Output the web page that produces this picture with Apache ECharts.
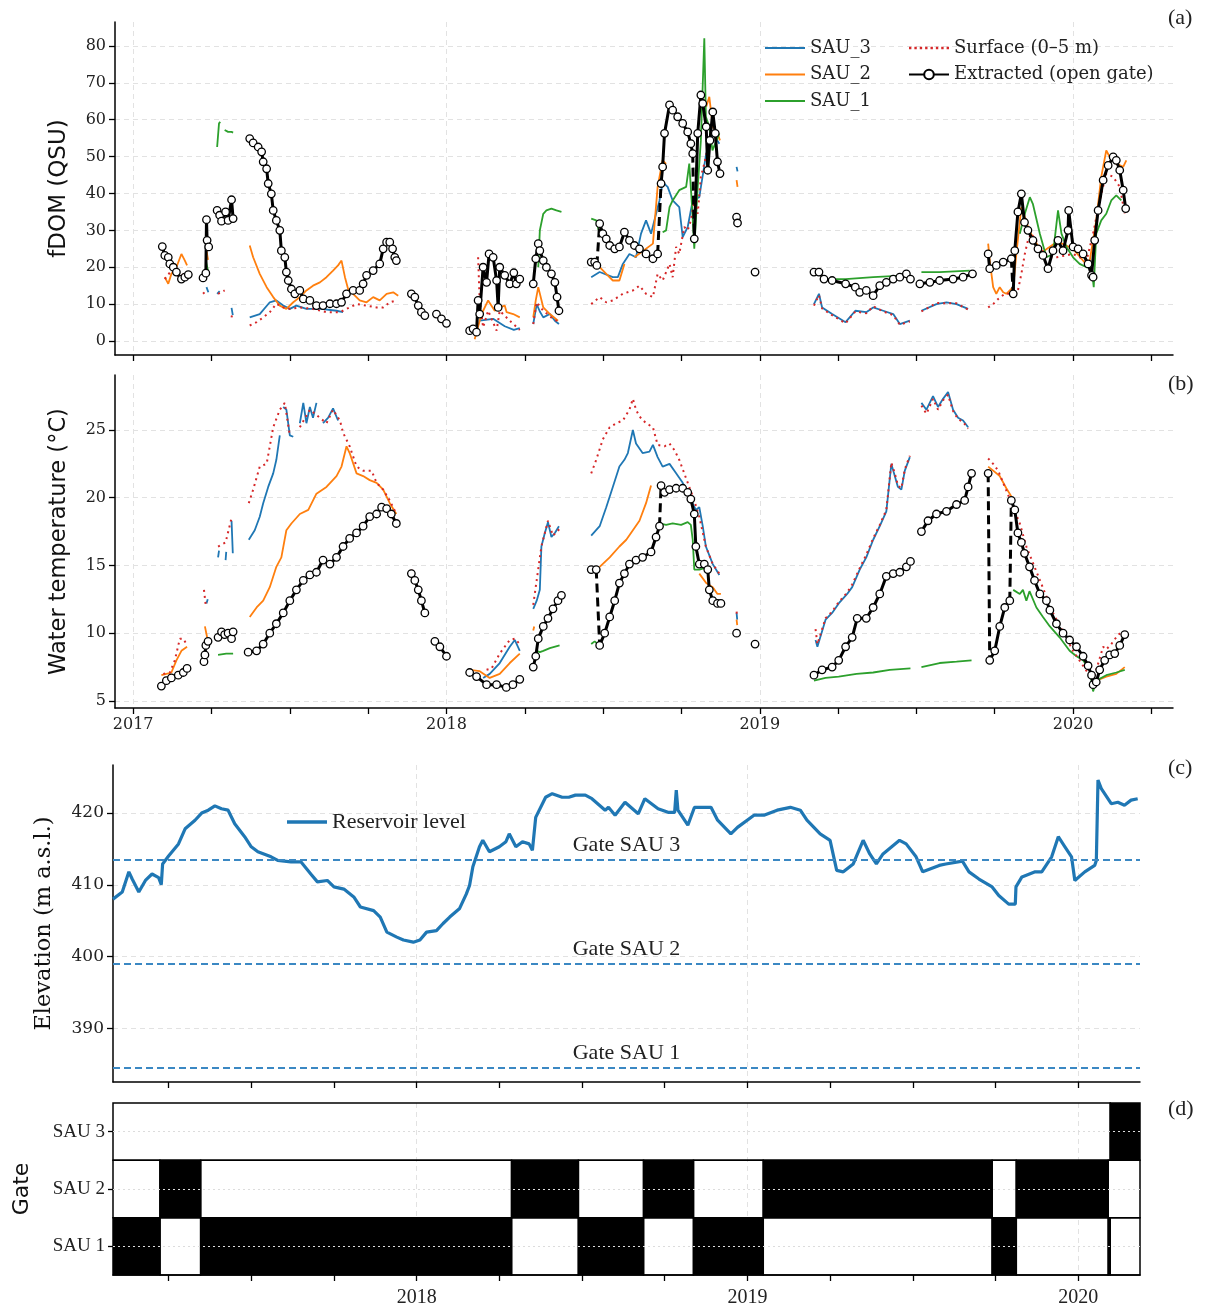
<!DOCTYPE html>
<html>
<head>
<meta charset="utf-8">
<script src="https://cdn.jsdelivr.net/npm/echarts@6/dist/echarts.min.js"></script>
<style>
html, body { margin: 0; padding: 0; background: #fff; }
#chart { width: 1210px; height: 1308px; }
</style>
</head>
<body>
<div id="chart"></div>
<script>
// ticks and labels (decimal years)
const quarterTicksAB = [2017, 2017.25, 2017.5, 2017.75, 2018, 2018.25, 2018.5, 2018.75, 2019, 2019.25, 2019.5, 2019.75, 2020, 2020.25];
const yearLabelsAB = [2017, 2018, 2019, 2020];
const quarterTicksCD = [2017.25, 2017.5, 2017.75, 2018, 2018.25, 2018.5, 2018.75, 2019, 2019.25, 2019.5, 2019.75, 2020];
const yearLabelsCD = [2018, 2019, 2020];
const fdomTicks = [0, 10, 20, 30, 40, 50, 60, 70, 80];
const tempTicks = [5, 10, 15, 20, 25];
const elevTicks = [390, 400, 410, 420];
const gateRows = ['SAU 1', 'SAU 2', 'SAU 3'];

// (a) fDOM, [decimal year, QSU], null = gap
const fdomSau3 = [
  [2017.234,14.6],[2017.240,13.2], null,
  [2017.268,12.8],[2017.276,13.5], null,
  [2017.314,9.0],[2017.318,7.0], null,
  [2017.372,6.4],[2017.404,7.3],[2017.436,10.5],[2017.457,11.0],[2017.479,9.6],[2017.500,8.7],[2017.521,9.6],[2017.553,8.7],[2017.600,8.7],[2017.649,8.2],[2017.670,7.8], null,
  [2018.106,5.5],[2018.149,6.0],[2018.186,4.0],[2018.215,3.0],[2018.234,3.5], null,
  [2018.277,4.6],[2018.288,10.0],[2018.298,8.0],[2018.309,6.4],[2018.330,7.3],[2018.346,5.5],[2018.359,4.6], null,
  [2018.462,17.3],[2018.489,18.7],[2018.531,17.3],[2018.547,17.3],[2018.563,20.9],[2018.584,23.6],[2018.605,22.7],[2018.621,29.1],[2018.637,32.7],[2018.653,29.1],[2018.669,34.5],[2018.680,38.1],[2018.690,43.1],[2018.706,41.8],[2018.722,38.1],[2018.743,36.3],[2018.754,28.2],[2018.770,30.9],[2018.786,38.1],[2018.807,39.0],[2018.829,50.8],[2018.850,56.3],[2018.871,53.5], null,
  [2018.926,47.2],[2018.929,46.0], null,
  [2019.173,10.0],[2019.189,12.8],[2019.199,9.1],[2019.231,7.3],[2019.274,5.1],[2019.305,8.2],[2019.340,7.8],[2019.362,9.1],[2019.394,8.2],[2019.426,7.3],[2019.447,4.6],[2019.479,5.5], null,
  [2019.516,8.2],[2019.564,10.0],[2019.596,10.5],[2019.628,10.0],[2019.665,8.7]
];
const fdomSau2 = [
  [2017.101,17.3],[2017.112,15.5],[2017.122,18.2],[2017.138,20.0],[2017.154,23.6],[2017.165,21.8],[2017.172,20.5], null,
  [2017.232,25.5],[2017.239,22.0], null,
  [2017.372,25.9],[2017.383,22.7],[2017.404,18.2],[2017.426,14.6],[2017.447,11.9],[2017.468,9.6],[2017.489,8.7],[2017.511,10.5],[2017.532,11.9],[2017.553,13.7],[2017.574,15.0],[2017.596,15.9],[2017.617,17.3],[2017.638,19.1],[2017.654,20.5],[2017.665,21.8],[2017.676,17.3],[2017.686,14.1],[2017.702,12.8],[2017.723,11.0],[2017.745,10.5],[2017.766,11.9],[2017.787,11.0],[2017.809,12.8],[2017.830,13.2],[2017.846,12.3], null,
  [2018.090,0.5],[2018.106,5.5],[2018.117,8.2],[2018.133,11.0],[2018.154,8.2],[2018.170,9.1],[2018.186,9.6],[2018.192,7.8],[2018.213,7.3],[2018.234,6.4], null,
  [2018.277,6.4],[2018.285,11.0],[2018.293,14.6],[2018.309,9.1],[2018.330,7.3],[2018.356,5.5], null,
  [2018.489,20.0],[2018.510,18.2],[2018.531,16.4],[2018.552,16.4],[2018.568,20.9], null,
  [2018.600,22.7],[2018.659,26.4],[2018.674,41.8],[2018.690,49.0],[2018.701,48.0], null,
  [2018.829,63.5],[2018.839,66.2],[2018.850,58.1],[2018.865,56.3],[2018.873,54.4], null,
  [2018.926,43.6],[2018.929,41.8], null,
  [2019.729,26.4],[2019.734,21.8],[2019.745,14.6],[2019.755,12.8],[2019.766,14.6],[2019.777,13.2],[2019.787,12.8],[2019.798,13.7],[2019.809,14.6],[2019.819,23.6],[2019.835,36.3],[2019.860,30.0],[2019.900,24.0],[2019.950,27.0],[2020.000,25.0],[2020.050,20.0],[2020.074,32.7],[2020.090,44.5],[2020.106,51.7],[2020.117,49.9],[2020.138,48.1],[2020.160,47.2],[2020.170,49.0]
];
const fdomSau1 = [
  [2017.232,21.8],[2017.239,19.0], null,
  [2017.268,52.6],[2017.274,59.0],[2017.278,59.4], null,
  [2017.292,57.2],[2017.303,56.7],[2017.314,56.7],[2017.319,56.5], null,
  [2018.293,20.0],[2018.298,30.0],[2018.309,34.5],[2018.319,35.4],[2018.335,35.9],[2018.351,35.4],[2018.367,35.0], null,
  [2018.462,33.2],[2018.478,32.7],[2018.489,29.0], null,
  [2018.690,29.5],[2018.701,30.0],[2018.712,36.3],[2018.722,38.1],[2018.743,40.9],[2018.765,41.8],[2018.775,48.1],[2018.784,36.3],[2018.791,25.0],[2018.802,41.8],[2018.812,54.4],[2018.823,82.1],[2018.828,60.8],[2018.839,58.1],[2018.849,51.7],[2018.871,56.3], null,
  [2019.210,16.8],[2019.274,16.8],[2019.362,17.3],[2019.468,17.8], null,
  [2019.516,18.7],[2019.574,18.7],[2019.670,19.1], null,
  [2019.830,29.1],[2019.846,34.5],[2019.862,39.0],[2019.872,37.1],[2019.894,29.1],[2019.915,22.7],[2019.936,23.6],[2019.952,35.4],[2019.963,29.1],[2019.979,25.5],[2020.000,22.7],[2020.021,20.9],[2020.043,20.0],[2020.059,20.0],[2020.066,14.6],[2020.074,29.1],[2020.090,32.7],[2020.106,34.5],[2020.122,38.1],[2020.138,39.5],[2020.154,38.1]
];
const fdomSurface = [
  [2017.101,16.8],[2017.122,19.1],[2017.149,17.3],[2017.170,18.7], null,
  [2017.223,12.8],[2017.234,13.7], null,
  [2017.271,12.8],[2017.292,13.7], null,
  [2017.314,6.4],[2017.318,8.0], null,
  [2017.372,4.2],[2017.394,5.1],[2017.415,6.4],[2017.436,7.8],[2017.457,10.1],[2017.479,9.1],[2017.500,8.7],[2017.532,9.1],[2017.574,8.7],[2017.617,7.8],[2017.660,7.8],[2017.681,8.7],[2017.713,10.0],[2017.745,9.6],[2017.777,9.1],[2017.798,9.1],[2017.819,10.5],[2017.840,11.0], null,
  [2018.101,22.7],[2018.106,11.0],[2018.117,3.7],[2018.133,8.2],[2018.160,2.8],[2018.170,8.2],[2018.202,5.5],[2018.234,3.0], null,
  [2018.277,4.6],[2018.288,10.5],[2018.309,8.2],[2018.340,6.0],[2018.361,5.1], null,
  [2018.462,10.0],[2018.489,11.9],[2018.510,10.5],[2018.531,11.0],[2018.563,12.8],[2018.595,13.7],[2018.616,15.0],[2018.637,12.8],[2018.659,11.9],[2018.674,18.2],[2018.690,16.4],[2018.712,20.9],[2018.722,17.3],[2018.733,25.5],[2018.743,23.6],[2018.759,30.9],[2018.770,30.0],[2018.780,32.7],[2018.791,38.0],[2018.802,34.5],[2018.812,44.5],[2018.823,48.1],[2018.839,54.4],[2018.855,54.4], null,
  [2019.173,9.6],[2019.189,12.4],[2019.199,8.8],[2019.231,7.0],[2019.274,4.8],[2019.305,8.0],[2019.340,7.5],[2019.362,9.4],[2019.394,8.0],[2019.426,7.0],[2019.447,4.4],[2019.479,5.3], null,
  [2019.516,8.0],[2019.564,10.3],[2019.596,10.2],[2019.628,10.2],[2019.665,8.5], null,
  [2019.729,9.1],[2019.745,10.0],[2019.761,11.4],[2019.782,12.8],[2019.803,12.8],[2019.824,13.7],[2019.835,18.2],[2019.846,23.6],[2019.856,27.3],[2019.867,29.1],[2019.915,22.7],[2019.947,22.7],[2020.000,23.6],[2020.043,21.8],[2020.064,29.1],[2020.085,38.0],[2020.106,45.4],[2020.128,44.5],[2020.149,41.8],[2020.165,34.5]
];
const fdomExtracted = [
  [2017.093,25.6],[2017.101,23.2],[2017.112,22.7],[2017.117,20.9],[2017.128,20.0],[2017.138,18.7],[2017.154,16.8],[2017.165,17.3],[2017.176,18.0], null,
  [2017.223,17.1],[2017.232,18.4],[2017.234,32.9],[2017.236,27.3],[2017.241,25.5], null,
  [2017.268,35.4],[2017.276,34.1],[2017.282,32.5],[2017.295,35.0],[2017.303,32.7],[2017.314,38.3],[2017.319,33.2], null,
  [2017.372,54.9],[2017.383,53.7],[2017.399,52.6],[2017.410,51.3],[2017.415,48.6],[2017.426,46.7],[2017.431,42.7],[2017.441,39.9],[2017.447,35.4],[2017.457,32.7],[2017.468,30.0],[2017.473,24.5],[2017.484,22.7],[2017.489,18.7],[2017.495,16.4],[2017.505,14.1],[2017.516,12.8],[2017.532,13.7],[2017.543,11.4],[2017.564,11.0],[2017.585,9.6],[2017.606,9.6],[2017.628,10.1],[2017.649,10.1],[2017.665,10.5],[2017.681,12.8],[2017.702,13.7],[2017.723,13.7],[2017.734,15.5],[2017.745,17.8],[2017.766,19.1],[2017.787,20.9],[2017.798,25.0],[2017.809,26.8],[2017.819,26.8],[2017.828,25.0],[2017.835,22.7],[2017.840,21.8], null,
  [2017.888,12.8],[2017.899,11.9],[2017.910,9.6],[2017.920,7.8],[2017.931,6.9], null,
  [2017.968,7.3],[2017.984,6.0],[2018.000,4.8], null,
  [2018.074,2.8],[2018.085,3.3],[2018.096,2.4],[2018.101,11.0],[2018.106,7.3],[2018.117,20.0],[2018.128,15.9],[2018.136,23.6],[2018.149,22.7],[2018.160,16.4],[2018.165,9.1],[2018.170,20.0],[2018.186,17.8],[2018.202,15.5],[2018.215,18.5],[2018.223,15.5],[2018.234,16.8], null,
  [2018.277,15.5],[2018.285,22.3],[2018.293,26.4],[2018.298,24.5],[2018.309,21.8],[2018.319,20.0],[2018.335,18.2],[2018.346,15.9],[2018.353,11.9],[2018.359,8.2], null,
  [2018.462,21.4],[2018.473,21.4],[2018.480,20.5], null,
  [2018.489,31.8],[2018.499,29.1],[2018.510,27.7],[2018.521,25.9],[2018.537,25.0],[2018.552,25.5],[2018.568,29.5],[2018.584,27.3],[2018.600,25.9],[2018.616,25.0],[2018.637,23.6],[2018.659,22.3],[2018.674,23.6], null,
  [2018.685,42.7],[2018.690,47.2],[2018.696,56.3],[2018.712,64.0],[2018.722,62.6],[2018.738,60.8],[2018.754,59.0],[2018.770,56.7],[2018.780,53.5],[2018.786,50.8], null,
  [2018.791,27.7],[2018.802,56.3],[2018.812,66.7],[2018.818,64.4],[2018.829,58.1],[2018.834,46.3],[2018.841,54.4],[2018.850,62.1],[2018.858,56.3],[2018.865,48.6],[2018.873,45.4], null,
  [2018.926,33.6],[2018.929,32.0], null,
  [2018.985,18.7], null,
  [2019.173,18.7],[2019.189,18.7],[2019.205,16.8],[2019.231,16.4],[2019.274,15.5],[2019.305,14.6],[2019.319,13.2],[2019.340,13.7],[2019.362,12.3],[2019.383,15.0],[2019.404,15.9],[2019.426,16.8],[2019.447,17.3],[2019.468,18.2],[2019.481,16.8], null,
  [2019.511,15.5],[2019.543,15.9],[2019.574,16.4],[2019.617,16.8],[2019.649,17.3],[2019.679,18.2], null,
  [2019.729,23.6],[2019.734,19.6],[2019.755,20.5],[2019.777,21.4],[2019.803,22.3], null,
  [2019.809,12.8],[2019.814,24.5],[2019.824,35.0],[2019.835,39.9],[2019.845,32.2],[2019.856,30.0],[2019.872,27.3],[2019.888,25.0],[2019.904,23.2],[2019.920,19.6],[2019.936,24.5],[2019.952,27.3],[2019.968,24.5],[2019.984,30.0],[2019.986,35.4],[2020.000,25.5],[2020.016,25.0],[2020.032,23.6],[2020.048,20.9],[2020.059,17.8],[2020.064,17.3],[2020.069,27.3],[2020.080,35.4],[2020.096,43.6],[2020.112,47.6],[2020.128,49.9],[2020.138,49.0],[2020.149,46.3],[2020.160,40.9],[2020.168,35.9]
];
const fdomJumps = [
  [2018.480,20.5],[2018.489,31.8], null,
  [2018.674,23.6],[2018.685,42.7], null,
  [2018.786,50.8],[2018.791,27.7], null,
  [2019.803,22.3],[2019.809,12.8]
];

// (b) water temperature, [decimal year, degC]
const tempSau3 = [
  [2017.234,12.2],[2017.238,12.5], null,
  [2017.271,15.6],[2017.274,16.1], null,
  [2017.295,15.4],[2017.297,16.0], null,
  [2017.314,18.3],[2017.318,15.9], null,
  [2017.369,16.9],[2017.388,17.6],[2017.404,18.6],[2017.415,19.6],[2017.431,20.8],[2017.447,21.8],[2017.457,22.8],[2017.468,24.6], null,
  [2017.479,26.7],[2017.489,26.5],[2017.500,24.6],[2017.511,24.5], null,
  [2017.532,25.5],[2017.543,27.0],[2017.553,25.5],[2017.564,26.7],[2017.574,25.9],[2017.585,27.0], null,
  [2017.606,25.5],[2017.622,25.9],[2017.638,26.6],[2017.654,25.7], null,
  [2018.117,6.7],[2018.138,7.0],[2018.170,7.8],[2018.202,9.0],[2018.218,9.5],[2018.234,8.7], null,
  [2018.277,11.8],[2018.288,12.4],[2018.298,13.2],[2018.303,16.4],[2018.314,17.4],[2018.324,18.2],[2018.335,17.1],[2018.346,17.4],[2018.359,17.9], null,
  [2018.462,17.2],[2018.489,17.9],[2018.510,19.3],[2018.531,20.8],[2018.552,22.3],[2018.568,22.8],[2018.579,23.3],[2018.595,25.0],[2018.605,24.0],[2018.626,23.3],[2018.648,23.4],[2018.659,23.9],[2018.674,23.0],[2018.690,22.3],[2018.712,22.5],[2018.733,21.8],[2018.754,21.1],[2018.775,20.1],[2018.796,19.1],[2018.807,19.3],[2018.818,17.9],[2018.828,16.4],[2018.850,15.1],[2018.871,14.3], null,
  [2018.926,11.5],[2018.928,11.0], null,
  [2019.178,9.5],[2019.184,9.0],[2019.210,11.0],[2019.231,11.5],[2019.252,12.2],[2019.279,12.9],[2019.295,13.4],[2019.319,14.7],[2019.340,15.6],[2019.362,16.9],[2019.383,17.9],[2019.404,19.0],[2019.420,22.5],[2019.431,21.6],[2019.441,20.8],[2019.452,20.6],[2019.463,22.0],[2019.479,23.0], null,
  [2019.516,27.0],[2019.532,26.5],[2019.553,27.5],[2019.569,26.7],[2019.585,27.3],[2019.601,27.8],[2019.617,26.5],[2019.633,25.9],[2019.649,25.7],[2019.665,25.2]
];
const tempSau2 = [
  [2017.090,6.9],[2017.106,7.0],[2017.122,7.1],[2017.138,8.0],[2017.154,8.7],[2017.172,9.0], null,
  [2017.229,10.5],[2017.236,9.7], null,
  [2017.372,11.2],[2017.394,11.9],[2017.415,12.4],[2017.436,13.4],[2017.457,14.9],[2017.473,15.6],[2017.489,17.6],[2017.505,18.1],[2017.532,18.8],[2017.559,19.1],[2017.585,20.3],[2017.617,20.8],[2017.649,21.6],[2017.665,22.3],[2017.681,23.8],[2017.691,23.3],[2017.713,21.8],[2017.734,21.6],[2017.755,21.3],[2017.777,21.1],[2017.798,20.6],[2017.819,19.6],[2017.840,18.8], null,
  [2018.074,7.3],[2018.106,7.2],[2018.138,6.7],[2018.170,7.0],[2018.202,7.8],[2018.234,8.5], null,
  [2018.277,10.2],[2018.280,10.5], null,
  [2018.489,14.9],[2018.521,15.6],[2018.552,16.4],[2018.574,16.9],[2018.595,17.6],[2018.616,18.3],[2018.637,19.6],[2018.653,20.9], null,
  [2018.807,14.4],[2018.829,13.7],[2018.850,13.4],[2018.865,12.9],[2018.876,12.9], null,
  [2018.926,11.0],[2018.928,10.6], null,
  [2019.729,22.3],[2019.745,22.0],[2019.766,21.6],[2019.787,20.7],[2019.803,20.1], null,
  [2020.074,6.5],[2020.106,6.8],[2020.138,7.0],[2020.165,7.5]
];
const tempSau1 = [
  [2017.271,8.4],[2017.297,8.5],[2017.319,8.5], null,
  [2018.288,8.7],[2018.298,8.6],[2018.309,8.7],[2018.330,8.9],[2018.361,9.1], null,
  [2018.462,9.2],[2018.473,9.4],[2018.483,9.2], null,
  [2018.680,18.1],[2018.701,18.0],[2018.722,18.1],[2018.749,18.0],[2018.770,18.2],[2018.780,18.0],[2018.786,16.9],[2018.791,14.7],[2018.807,14.7],[2018.823,14.8], null,
  [2019.173,6.5],[2019.210,6.7],[2019.252,6.8],[2019.309,7.0],[2019.362,7.1],[2019.415,7.3],[2019.481,7.4], null,
  [2019.516,7.5],[2019.574,7.8],[2019.628,7.9],[2019.676,8.0], null,
  [2019.809,13.2],[2019.830,12.9],[2019.840,13.2],[2019.851,12.4],[2019.861,13.1],[2019.883,11.9],[2019.904,11.2],[2019.926,10.5],[2019.957,9.7],[2019.989,8.7],[2020.011,8.3],[2020.032,8.0],[2020.053,7.3],[2020.064,5.7],[2020.074,6.5],[2020.106,6.9],[2020.138,7.1],[2020.165,7.3]
];
const tempSurface = [
  [2017.096,7.0],[2017.117,7.1],[2017.133,8.0],[2017.149,9.6],[2017.160,9.6],[2017.170,9.2], null,
  [2017.226,13.2],[2017.232,12.0], null,
  [2017.271,16.4],[2017.295,16.7],[2017.314,18.5], null,
  [2017.369,19.6],[2017.383,20.6],[2017.404,22.3],[2017.426,22.5],[2017.447,25.2],[2017.468,26.5],[2017.484,27.0],[2017.500,24.6], null,
  [2017.532,25.2],[2017.564,26.5],[2017.617,25.5],[2017.638,26.5],[2017.660,25.7],[2017.670,24.8],[2017.691,23.8],[2017.713,22.3],[2017.734,22.0],[2017.761,22.0],[2017.777,21.1],[2017.798,20.6],[2017.819,19.8],[2017.840,18.8], null,
  [2017.888,14.7],[2017.890,14.3], null,
  [2018.128,7.3],[2018.144,7.4],[2018.170,8.5],[2018.202,9.5],[2018.218,9.6],[2018.234,9.2], null,
  [2018.277,12.1],[2018.303,16.4],[2018.324,18.3],[2018.340,17.2],[2018.361,17.7], null,
  [2018.462,21.8],[2018.478,22.8],[2018.499,24.3],[2018.521,25.2],[2018.542,25.5],[2018.563,25.7],[2018.584,26.5],[2018.595,27.3],[2018.605,26.5],[2018.616,26.0],[2018.637,25.5],[2018.659,25.2],[2018.674,23.9],[2018.696,23.8],[2018.712,24.0],[2018.728,23.5],[2018.743,22.8],[2018.759,21.8],[2018.775,20.8],[2018.791,19.8],[2018.807,18.6],[2018.828,16.4],[2018.850,15.1],[2018.871,14.4], null,
  [2018.926,11.6],[2018.928,11.2], null,
  [2019.178,10.3],[2019.184,9.2],[2019.210,11.1],[2019.231,11.6],[2019.252,12.3],[2019.279,13.0],[2019.295,13.6],[2019.319,14.8],[2019.340,15.8],[2019.362,17.0],[2019.383,18.0],[2019.404,19.1],[2019.420,22.6],[2019.431,21.8],[2019.441,20.9],[2019.452,20.7],[2019.463,22.1],[2019.479,23.1], null,
  [2019.516,26.8],[2019.532,26.2],[2019.553,27.3],[2019.569,26.5],[2019.585,27.2],[2019.601,27.6],[2019.617,26.4],[2019.633,25.8],[2019.649,25.6],[2019.665,25.1], null,
  [2019.729,22.9],[2019.745,22.5],[2019.761,22.0],[2019.830,18.1],[2019.851,16.4],[2019.936,11.5],[2020.000,8.7],[2020.064,6.5],[2020.096,9.0],[2020.106,8.8],[2020.122,9.2],[2020.138,9.7],[2020.154,10.1],[2020.165,9.8]
];
const tempExtracted = [
  [2017.090,6.1],[2017.106,6.5],[2017.122,6.7],[2017.144,6.9],[2017.160,7.1],[2017.172,7.4], null,
  [2017.226,7.9],[2017.229,8.4],[2017.232,9.1],[2017.239,9.4], null,
  [2017.271,9.7],[2017.282,10.1],[2017.292,9.9],[2017.303,10.0],[2017.314,9.6],[2017.319,10.1], null,
  [2017.367,8.6],[2017.394,8.7],[2017.415,9.2],[2017.436,10.0],[2017.457,10.7],[2017.479,11.5],[2017.500,12.4],[2017.521,13.2],[2017.543,13.9],[2017.564,14.3],[2017.585,14.5],[2017.606,15.4],[2017.628,15.1],[2017.649,15.6],[2017.670,16.4],[2017.691,17.0],[2017.713,17.4],[2017.734,17.9],[2017.755,18.6],[2017.777,18.8],[2017.793,19.3],[2017.809,19.2],[2017.824,18.8],[2017.840,18.1], null,
  [2017.888,14.4],[2017.899,13.9],[2017.910,13.2],[2017.920,12.4],[2017.931,11.5], null,
  [2017.963,9.4],[2017.979,9.0],[2018.000,8.3], null,
  [2018.074,7.1],[2018.096,6.8],[2018.128,6.2],[2018.160,6.2],[2018.191,6.0],[2018.212,6.2],[2018.234,6.6], null,
  [2018.277,7.5],[2018.285,8.3],[2018.293,9.6],[2018.309,10.5],[2018.324,11.1],[2018.340,11.8],[2018.356,12.4],[2018.367,12.8], null,
  [2018.462,14.7],[2018.478,14.7], null,
  [2018.489,9.1],[2018.505,10.0],[2018.521,11.2],[2018.537,12.4],[2018.552,13.7],[2018.568,14.4],[2018.584,15.1],[2018.605,15.4],[2018.626,15.6],[2018.653,16.0],[2018.669,17.1],[2018.680,17.9], null,
  [2018.685,20.9],[2018.696,20.4],[2018.712,20.6],[2018.733,20.7],[2018.754,20.7],[2018.770,20.4],[2018.780,19.9],[2018.791,18.8],[2018.796,16.4],[2018.807,15.1],[2018.823,15.1],[2018.834,14.7],[2018.839,13.2],[2018.850,12.4],[2018.865,12.2],[2018.876,12.2], null,
  [2018.926,10.0], null,
  [2018.985,9.2], null,
  [2019.173,6.9],[2019.199,7.3],[2019.231,7.5],[2019.252,8.0],[2019.274,9.0],[2019.295,9.7],[2019.311,11.1],[2019.340,11.1],[2019.362,11.9],[2019.383,12.9],[2019.404,14.2],[2019.426,14.4],[2019.447,14.5],[2019.468,14.9],[2019.481,15.3], null,
  [2019.516,17.5],[2019.537,18.3],[2019.564,18.8],[2019.596,19.0],[2019.628,19.5],[2019.654,19.8],[2019.665,20.8],[2019.676,21.8], null,
  [2019.729,21.8], null,
  [2019.734,8.0],[2019.750,8.7],[2019.766,10.5],[2019.782,11.9],[2019.798,12.4], null,
  [2019.803,19.8],[2019.814,19.1],[2019.824,17.4],[2019.835,16.7],[2019.845,15.9],[2019.861,14.9],[2019.877,13.9],[2019.894,12.9],[2019.915,12.4],[2019.926,11.7],[2019.947,10.7],[2019.968,10.0],[2019.989,9.5],[2020.011,9.0],[2020.032,8.3],[2020.048,7.6],[2020.059,6.9],[2020.064,6.2],[2020.074,6.4],[2020.085,7.3],[2020.101,8.0],[2020.117,8.4],[2020.133,8.5],[2020.149,9.1],[2020.165,9.9]
];
const tempJumps = [
  [2018.478,14.7],[2018.489,9.1], null,
  [2018.680,17.9],[2018.685,20.9], null,
  [2019.729,21.8],[2019.734,8.0], null,
  [2019.798,12.4],[2019.803,19.8]
];

// (c) reservoir level, [decimal year, m a.s.l.]
const reservoirLevel = [
  [2017.082,408.0],[2017.11,409.0],[2017.13,411.8],[2017.14,410.8],[2017.16,409.0],[2017.18,410.6],[2017.20,411.5],[2017.22,411.0],[2017.228,410.0],[2017.232,412.9],[2017.25,414.0],[2017.28,415.7],[2017.30,417.8],[2017.33,419.0],[2017.35,420.0],[2017.37,420.4],[2017.39,421.0],[2017.41,420.6],[2017.43,420.4],[2017.45,418.5],[2017.48,416.7],[2017.50,415.3],[2017.52,414.6],[2017.56,413.9],[2017.58,413.4],[2017.62,413.2],[2017.65,413.2],[2017.68,411.5],[2017.70,410.4],[2017.73,410.6],[2017.75,409.7],[2017.78,409.4],[2017.81,408.3],[2017.83,406.9],[2017.87,406.4],[2017.89,405.5],[2017.91,403.4],[2017.94,402.7],[2017.96,402.3],[2017.99,402.0],[2018.01,402.3],[2018.03,403.4],[2018.06,403.6],[2018.08,404.6],[2018.10,405.5],[2018.13,406.7],[2018.15,408.7],[2018.16,409.9],[2018.17,412.5],[2018.19,415.3],[2018.20,416.2],[2018.22,414.6],[2018.25,415.3],[2018.27,416.0],[2018.28,417.1],[2018.30,415.3],[2018.32,416.0],[2018.34,415.7],[2018.35,414.8],[2018.36,419.4],[2018.39,422.2],[2018.41,422.7],[2018.44,422.2],[2018.46,422.2],[2018.48,422.5],[2018.51,422.5],[2018.53,422.0],[2018.57,420.4],[2018.58,420.8],[2018.60,419.7],[2018.63,421.5],[2018.67,419.9],[2018.69,422.0],[2018.73,420.6],[2018.76,420.1],[2018.78,420.1],[2018.785,423.2],[2018.79,420.4],[2018.82,418.3],[2018.84,420.8],[2018.87,420.8],[2018.89,420.8],[2018.91,419.0],[2018.95,417.1],[2018.97,418.0],[2019.02,419.7],[2019.05,419.7],[2019.09,420.4],[2019.13,420.8],[2019.16,420.4],[2019.18,419.0],[2019.22,417.1],[2019.25,416.2],[2019.27,412.0],[2019.29,411.8],[2019.32,412.9],[2019.35,416.2],[2019.37,414.3],[2019.39,412.9],[2019.41,414.3],[2019.46,416.2],[2019.48,415.7],[2019.51,413.9],[2019.53,411.8],[2019.58,412.7],[2019.60,412.9],[2019.65,413.3],[2019.67,411.8],[2019.70,410.8],[2019.74,409.7],[2019.76,408.5],[2019.79,407.3],[2019.81,407.3],[2019.812,409.7],[2019.83,411.1],[2019.87,411.8],[2019.89,411.8],[2019.91,413.2],[2019.92,413.9],[2019.94,416.7],[2019.96,415.3],[2019.98,413.9],[2019.99,410.6],[2020.02,411.8],[2020.05,412.7],[2020.055,413.4],[2020.06,424.6],[2020.07,423.4],[2020.10,421.3],[2020.12,421.5],[2020.14,421.1],[2020.16,421.8],[2020.18,422.0]
];
const gateLevels = [413.5, 399, 384.5];
const gateLevelNames = ['Gate SAU 3', 'Gate SAU 2', 'Gate SAU 1'];

// (d) gate state: [start, end, open]
const gateSau1 = [[2017.082,2017.224,1],[2017.224,2017.347,0],[2017.347,2018.287,1],[2018.287,2018.489,0],[2018.489,2018.686,1],[2018.686,2018.837,0],[2018.837,2019.048,1],[2019.048,2019.740,0],[2019.740,2019.813,1],[2019.813,2020.091,0],[2020.091,2020.097,1],[2020.097,2020.187,0]];
const gateSau2 = [[2017.082,2017.224,0],[2017.224,2017.347,1],[2017.347,2018.287,0],[2018.287,2018.489,1],[2018.489,2018.686,0],[2018.686,2018.837,1],[2018.837,2019.048,0],[2019.048,2019.740,1],[2019.740,2019.813,0],[2019.813,2020.091,1],[2020.091,2020.187,0]];
const gateSau3 = [[2017.082,2020.097,0],[2020.097,2020.187,1]];

const rangeAB = [2016.942, 2020.319];
const rangeCD = [2017.082, 2020.187];

const BLUE = '#1f77b4', ORANGE = '#ff7f0e', GREEN = '#2ca02c', RED = '#d62728';
const GRIDLINE = {color: '#e2e2e2', type: [5, 4], width: 1};

// legend icons: plain line, thick line, dotted line
const lineIcon = 'path://M0,0L40,0L40,2L0,2Z';
const thickIcon = 'path://M0,0L40,0L40,3.5L0,3.5Z';
let dotIcon = 'path://';
for (let i = 0; i < 8; i++) dotIcon += `M${i * 5.4},0h2.4v2.4h-2.4Z`;

function pts(list) {
	return list.map(p => p === null ? ['-', '-'] : p);
}

let chart = echarts.init(document.getElementById('chart'), null, {width: 1210, height: 1308});

function xAxes(grid, range, ticks, labels, font, size, margin) {
	return [{
		type: 'value', gridIndex: grid, min: range[0], max: range[1], position: 'bottom',
		axisLine: {show: true, onZero: false, lineStyle: {color: '#000', width: 1.5}},
		axisTick: {show: true, customValues: ticks, length: 6, lineStyle: {color: '#000', width: 1.3}},
		axisLabel: {show: labels.length > 0, customValues: labels, formatter: v => String(Math.round(v)),
			fontFamily: font, fontSize: size, color: '#222', margin: margin},
		splitLine: {show: false}
	}, {
		type: 'value', gridIndex: grid, min: range[0], max: range[1], position: 'top',
		axisLine: {show: false}, axisTick: {show: false, customValues: labels.length ? labels : yearLabelsAB},
		axisLabel: {show: false, customValues: labels.length ? labels : yearLabelsAB},
		splitLine: {show: true, lineStyle: GRIDLINE}
	}];
}

function yAxis(grid, min, max, ticks, name, nameFont, nameSize, gap, labelSize) {
	return {
		type: 'value', gridIndex: grid, min: min, max: max,
		name: name, nameLocation: 'middle', nameGap: gap, nameRotate: 90,
		nameTextStyle: {fontFamily: nameFont, fontSize: nameSize, color: '#111'},
		axisLine: {show: true, onZero: false, lineStyle: {color: '#000', width: 1.5}},
		axisTick: {show: true, customValues: ticks, length: 6, lineStyle: {color: '#000', width: 1.3}},
		axisLabel: {customValues: ticks, fontFamily: 'DejaVu Serif', fontSize: labelSize, color: '#222', margin: 9},
		splitLine: {show: true, lineStyle: GRIDLINE}
	};
}

function lineSeries(name, data, color, x, y, extra) {
	return Object.assign({
		name: name, type: 'line', xAxisIndex: x, yAxisIndex: y, data: pts(data),
		showSymbol: false, symbol: 'none', connectNulls: false,
		lineStyle: {color: color, width: 1.8}, itemStyle: {color: color}
	}, extra || {});
}

function extractedSeries(data, x, y) {
	return {
		name: 'Extracted (open gate)', type: 'line', xAxisIndex: x, yAxisIndex: y, data: pts(data),
		symbol: 'circle', symbolSize: 7.5, showSymbol: true, showAllSymbol: true, connectNulls: false, z: 5,
		lineStyle: {color: '#000', width: 3},
		itemStyle: {color: '#fff', borderColor: '#000', borderWidth: 1.3}
	};
}

function jumpSeries(data, x, y) {
	return {
		name: 'jumps', type: 'line', xAxisIndex: x, yAxisIndex: y, data: pts(data),
		symbol: 'none', connectNulls: false, z: 4,
		lineStyle: {color: '#000', width: 3, type: [9, 5]}
	};
}

let gateData = [];
[gateSau1, gateSau2, gateSau3].forEach((segs, row) => {
	segs.forEach(s => gateData.push([s[0], s[1], row, s[2]]));
});

let surfaceStyle = {lineStyle: {color: RED, width: 2, type: [2, 4]}};
let legendText = {fontFamily: 'DejaVu Serif', fontSize: 18, color: '#222'};

let option = {
	animation: false,
	backgroundColor: '#fff',
	grid: [
		{left: 115, top: 22, width: 1058, height: 333},
		{left: 115, top: 375, width: 1058, height: 333},
		{left: 113, top: 765, width: 1027, height: 317},
		{left: 113, top: 1103, width: 1027, height: 172}
	],
	xAxis: [].concat(
		xAxes(0, rangeAB, quarterTicksAB, [], 'DejaVu Serif', 16, 9),
		xAxes(1, rangeAB, quarterTicksAB, yearLabelsAB, 'DejaVu Serif', 16, 9),
		xAxes(2, rangeCD, quarterTicksCD, [], 'Liberation Serif', 20, 13),
		xAxes(3, rangeCD, quarterTicksCD, yearLabelsCD, 'Liberation Serif', 20, 13)
	),
	yAxis: [
		yAxis(0, -3.8, 86.5, fdomTicks, 'fDOM (QSU)', 'DejaVu Sans', 23, 44, 16),
		yAxis(1, 4.48, 29.06, tempTicks, 'Water temperature (°C)', 'DejaVu Sans', 22.5, 44, 16),
		yAxis(2, 382.5, 426.7, elevTicks, 'Elevation (m a.s.l.)', 'DejaVu Serif', 22.5, 57, 17),
		{
			type: 'category', gridIndex: 3, data: gateRows,
			name: 'Gate', nameLocation: 'middle', nameGap: 80, nameRotate: 90,
			nameTextStyle: {fontFamily: 'DejaVu Sans', fontSize: 22, color: '#111'},
			axisLine: {show: false},
			axisTick: {show: true, alignWithLabel: true, length: 5, lineStyle: {color: '#000', width: 1.3}},
			axisLabel: {fontFamily: 'Liberation Serif', fontSize: 19, color: '#222', margin: 8},
			splitLine: {show: false}
		}
	],
	legend: [
		{
			data: [{name: 'SAU_3', icon: lineIcon}, {name: 'SAU_2', icon: lineIcon}, {name: 'SAU_1', icon: lineIcon}],
			orient: 'vertical', left: 760, top: 34,
			itemWidth: 40, itemHeight: 12, itemGap: 8.5, textStyle: legendText
		},
		{
			data: [{name: 'Surface (0–5 m)', icon: dotIcon}, 'Extracted (open gate)'],
			orient: 'vertical', left: 903, top: 34,
			itemWidth: 40, itemHeight: 12, itemGap: 8.5, textStyle: legendText
		},
		{
			data: [{name: 'Reservoir level', icon: thickIcon}], left: 282, top: 806,
			itemWidth: 40, itemHeight: 12,
			textStyle: {fontFamily: 'Liberation Serif', fontSize: 22, color: '#222'}
		}
	],
	graphic: [
		{type: 'text', left: 1168, top: 7, style: {text: '(a)', font: '22px "Liberation Serif"', fill: '#222'}},
		{type: 'text', left: 1168, top: 373, style: {text: '(b)', font: '22px "Liberation Serif"', fill: '#222'}},
		{type: 'text', left: 1168, top: 757, style: {text: '(c)', font: '22px "Liberation Serif"', fill: '#222'}},
		{type: 'text', left: 1168, top: 1098, style: {text: '(d)', font: '22px "Liberation Serif"', fill: '#222'}}
	],
	series: [
		// (a)
		lineSeries('SAU_3', fdomSau3, BLUE, 0, 0),
		lineSeries('SAU_2', fdomSau2, ORANGE, 0, 0),
		lineSeries('SAU_1', fdomSau1, GREEN, 0, 0),
		lineSeries('Surface (0–5 m)', fdomSurface, RED, 0, 0, surfaceStyle),
		jumpSeries(fdomJumps, 0, 0),
		extractedSeries(fdomExtracted, 0, 0),
		// (b)
		lineSeries('SAU_3', tempSau3, BLUE, 2, 1),
		lineSeries('SAU_2', tempSau2, ORANGE, 2, 1),
		lineSeries('SAU_1', tempSau1, GREEN, 2, 1),
		lineSeries('Surface (0–5 m)', tempSurface, RED, 2, 1, surfaceStyle),
		jumpSeries(tempJumps, 2, 1),
		extractedSeries(tempExtracted, 2, 1),
		// (c)
		{
			name: 'Reservoir level', type: 'line', xAxisIndex: 4, yAxisIndex: 2, data: reservoirLevel,
			symbol: 'none', lineStyle: {color: BLUE, width: 3.2}, itemStyle: {color: BLUE},
			markLine: {
				silent: true, symbol: 'none',
				lineStyle: {color: '#3b88c3', width: 2, type: [7, 4]},
				data: gateLevels.map((v, i) => ({
					yAxis: v,
					label: {show: true, position: 'middle', formatter: gateLevelNames[i], distance: 3,
						fontFamily: 'Liberation Serif', fontSize: 22, color: '#222'}
				}))
			}
		},
		// (d) row centre guides
		{
			name: 'rows', type: 'line', xAxisIndex: 6, yAxisIndex: 3, data: [], z: 1,
			markLine: {
				silent: true, symbol: 'none', label: {show: false},
				lineStyle: {color: '#dcdcdc', width: 1, type: [2, 3]},
				data: gateRows.map(r => ({yAxis: r}))
			}
		},
		{
			name: 'gates', type: 'custom', xAxisIndex: 6, yAxisIndex: 3, data: gateData, z: 3,
			encode: {x: [0, 1], y: 2},
			renderItem: function(params, api) {
				let row = api.value(2);
				let a = api.coord([api.value(0), row]);
				let b = api.coord([api.value(1), row]);
				let h = api.size([0, 1])[1];
				return {
					type: 'rect',
					shape: {x: a[0], y: a[1] - h / 2, width: b[0] - a[0], height: h},
					style: {fill: api.value(3) ? '#000' : 'none', stroke: '#000', lineWidth: 1.5}
				};
			}
		}
	]
};

chart.setOption(option);
</script>
</body>
</html>
